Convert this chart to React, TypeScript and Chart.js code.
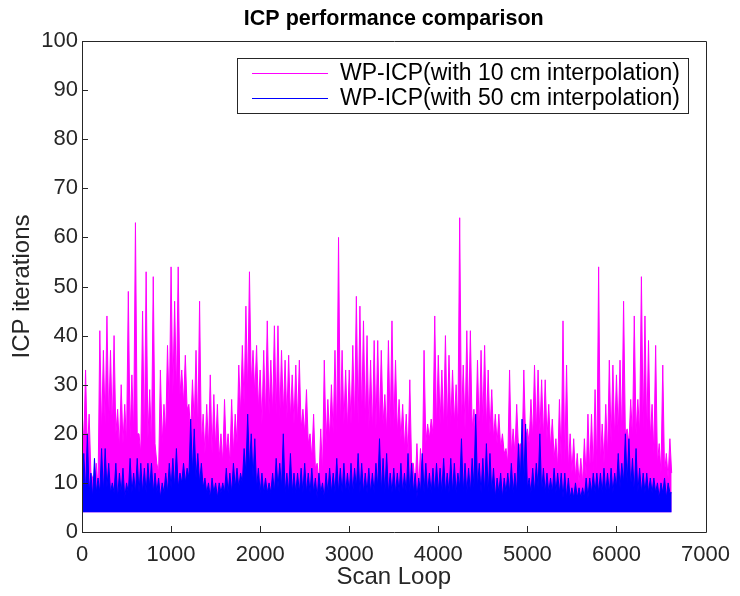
import React, { useEffect, useRef } from "react";
import { Chart, registerables } from "chart.js";

Chart.register(...registerables);

const TITLE = "ICP performance comparison";
const X_TITLE = "Scan Loop";
const Y_TITLE = "ICP iterations";
const LABEL_10CM = "WP-ICP(with 10 cm interpolation)";
const LABEL_50CM = "WP-ICP(with 50 cm interpolation)";

// sampling interval (scan loops) between successive readings
const SCAN_STEP = 20;
const xTickValues = [0, 1000, 2000, 3000, 4000, 5000, 6000, 7000];
const yTickValues = [0, 10, 20, 30, 40, 50, 60, 70, 80, 90, 100];

// ICP iterations, 10 cm interpolation (magenta): alternating spike / dense level, every 20 scan loops
const iter10cm = [
  25, 18, 33, 16, 24, 12, 11, 8, 14, 9, 41, 20, 37, 22, 44, 22, 37, 21, 40, 20,
  25, 17, 30, 18, 26, 18, 49, 19, 32, 20, 63, 20, 20, 16, 45, 18, 53, 19, 29, 17,
  52, 18, 14, 12, 33, 18, 26, 20, 38, 24, 54, 28, 47, 28, 54, 28,
  33, 26, 36, 25, 26, 20, 31, 22, 37, 20, 47, 18, 24, 16, 26, 17, 32, 16, 28, 17,
  26, 15, 20, 14, 27, 16, 20, 14, 27, 16, 24, 18, 34, 24, 38, 26, 46, 28, 53, 30,
  37, 28, 38, 25, 33, 22, 37, 23, 43, 24, 35, 24, 42, 24,
  42, 23, 37, 24, 35, 23, 36, 23, 32, 22, 34, 22, 35, 21, 25, 20, 29, 18, 20, 15,
  24, 13, 14, 10, 21, 12, 35, 18, 27, 19, 30, 20, 37, 20, 60, 21, 37, 22, 33, 21,
  33, 22, 38, 22, 48, 22, 46, 23, 43, 22, 40, 21, 35, 20, 39, 21,
  39, 21, 37, 22, 28, 20, 39, 21, 43, 21, 35, 20, 27, 19, 26, 17, 24, 15, 31, 14,
  14, 9, 18, 9, 17, 11, 37, 18, 22, 19, 23, 20, 44, 21, 36, 22, 33, 21, 40, 21,
  36, 22, 33, 22, 30, 21, 64, 22, 34, 21, 41, 22, 41, 21, 25, 19, 35, 20,
  37, 22, 38, 21, 33, 20, 29, 19, 24, 18, 24, 17, 20, 16, 17, 14, 33, 16, 21, 16,
  26, 17, 18, 15, 33, 19, 21, 18, 27, 19, 34, 20, 33, 20, 31, 19, 31, 19, 26, 17,
  23, 15, 19, 13, 27, 14, 43, 14, 34, 13, 20, 12, 19, 11, 16, 10,
  15, 10, 19, 11, 24, 12, 24, 12, 29, 13, 54, 14, 22, 14, 26, 15, 35, 18, 34, 19,
  32, 20, 35, 19, 47, 20, 21, 18, 27, 19, 44, 20, 27, 20, 52, 21, 44, 20, 39, 19,
  26, 16, 38, 14, 18, 12, 34, 12, 16, 11, 19, 12,
];

// ICP iterations, 50 cm interpolation (blue): alternating dense level / spike, every 20 scan loops
const iter50cm = [
  9, 16, 8, 20, 8, 12, 7, 15, 8, 11,
  8, 17, 8, 17, 9, 14, 8, 10, 8, 14,
  7, 12, 8, 13, 7, 10, 8, 15, 8, 12,
  8, 15, 8, 14, 8, 13, 8, 14, 9, 14,
  8, 12, 8, 11, 7, 10, 8, 12, 8, 14,
  9, 15, 9, 17, 9, 12, 10, 14, 10, 13,
  11, 23, 12, 21, 11, 16, 10, 14, 9, 11,
  8, 10, 7, 11, 8, 10, 7, 10, 8, 10,
  8, 13, 8, 12, 8, 14, 9, 13, 9, 12,
  10, 17, 12, 24, 13, 20, 11, 19, 9, 13,
  8, 12, 8, 11, 8, 10, 8, 12, 8, 15,
  9, 14, 9, 20, 8, 12, 8, 16, 8, 12,
  8, 12, 8, 13, 8, 14, 8, 12, 8, 13,
  8, 11, 7, 12, 8, 10, 7, 12, 8, 13,
  8, 12, 8, 15, 8, 13, 8, 14, 8, 12,
  8, 14, 8, 13, 9, 16, 8, 14, 8, 12,
  8, 13, 8, 12, 8, 14, 9, 19, 8, 15,
  8, 16, 8, 12, 8, 13, 8, 12, 8, 14,
  8, 12, 8, 16, 8, 14, 8, 12, 7, 11,
  8, 16, 8, 14, 8, 12, 8, 13, 8, 14,
  8, 13, 8, 15, 8, 12, 8, 15, 8, 14,
  8, 12, 9, 19, 8, 14, 8, 13, 8, 15,
  9, 24, 9, 14, 8, 15, 8, 18, 8, 16,
  8, 13, 7, 11, 8, 12, 7, 11, 8, 12,
  8, 14, 8, 12, 8, 18, 10, 23, 10, 22,
  9, 11, 8, 13, 8, 14, 9, 20, 8, 13,
  8, 12, 8, 11, 8, 13, 8, 12, 8, 12,
  7, 12, 7, 11, 7, 9, 7, 10, 7, 9,
  7, 9, 7, 11, 7, 11, 8, 12, 8, 12,
  8, 12, 8, 13, 8, 12, 8, 13, 8, 12,
  9, 16, 9, 14, 10, 20, 10, 19, 9, 15,
  8, 17, 8, 13, 8, 12, 8, 12, 8, 11,
  8, 11, 8, 10, 7, 10, 8, 11, 7, 10, 8, 8,
];

// lowest iteration count seen (bottom edge of both traces)
const MIN_ITER = 4;

const MAGENTA = "#ff00ff";
const BLUE = "#0000ff";
const AXIS_COLOR = "#262626";
const FONT = '"Liberation Sans", Arial, Helvetica, sans-serif';

const toPoints = (arr: number[]) => arr.map((v, i) => ({ x: i * SCAN_STEP, y: v }));

const decorPlugin = {
  id: "decor",
  afterDraw(chart: any) {
    const { ctx, chartArea } = chart;
    const { left, right, top, bottom } = chartArea;
    const xs = chart.scales.x;
    const ys = chart.scales.y;
    ctx.save();
    // frame
    ctx.strokeStyle = AXIS_COLOR;
    ctx.lineWidth = 1;
    ctx.beginPath();
    ctx.rect(Math.round(left) + 0.5, Math.round(top) + 0.5, Math.round(right - left), Math.round(bottom - top));
    ctx.stroke();
    // inward ticks
    ctx.beginPath();
    for (const t of xTickValues) {
      const px = Math.round(xs.getPixelForValue(t)) + 0.5;
      ctx.moveTo(px, bottom);
      ctx.lineTo(px, bottom - 6);
    }
    for (const t of yTickValues) {
      const py = Math.round(ys.getPixelForValue(t)) + 0.5;
      ctx.moveTo(left, py);
      ctx.lineTo(left + 6, py);
    }
    ctx.stroke();

    // title
    ctx.fillStyle = "#000";
    ctx.font = "bold 21.5px " + FONT;
    ctx.textAlign = "center";
    ctx.textBaseline = "middle";
    ctx.fillText(TITLE, (left + right) / 2, 19);

    // legend box
    const bx = 237, by = 58, bw = 451, bh = 55;
    ctx.fillStyle = "#fff";
    ctx.fillRect(bx, by, bw, bh);
    ctx.strokeStyle = AXIS_COLOR;
    ctx.strokeRect(bx + 0.5, by + 0.5, bw, bh);
    const rows = [
      { label: chart.data.datasets[0].label, color: MAGENTA, y: 73 },
      { label: chart.data.datasets[1].label, color: BLUE, y: 98 },
    ];
    ctx.font = "23px " + FONT;
    ctx.textAlign = "left";
    ctx.textBaseline = "middle";
    for (const r of rows) {
      ctx.strokeStyle = r.color;
      ctx.beginPath();
      ctx.moveTo(252, r.y + 0.5);
      ctx.lineTo(328, r.y + 0.5);
      ctx.stroke();
      ctx.fillStyle = "#000";
      ctx.fillText(r.label, 340, r.y + 1);
    }
    ctx.restore();
  },
};

export default function App() {
  const ref = useRef<HTMLCanvasElement | null>(null);

  useEffect(() => {
    if (!ref.current) return;
    const chart = new Chart(ref.current, {
      type: "line",
      data: {
        datasets: [
          {
            label: LABEL_10CM,
            data: toPoints(iter10cm),
            borderColor: MAGENTA,
            backgroundColor: MAGENTA,
            borderWidth: 1,
            pointRadius: 0,
            tension: 0,
            fill: { value: MIN_ITER },
            order: 1,
          },
          {
            label: LABEL_50CM,
            data: toPoints(iter50cm),
            borderColor: BLUE,
            backgroundColor: BLUE,
            borderWidth: 1,
            pointRadius: 0,
            tension: 0,
            fill: { value: MIN_ITER },
            order: 0,
          },
        ],
      },
      options: {
        responsive: false,
        animation: false,
        events: [],
        layout: { padding: { top: 41, right: 32, left: 0, bottom: 0 } },
        plugins: {
          legend: { display: false },
          title: { display: false },
          tooltip: { enabled: false },
        },
        scales: {
          x: {
            type: "linear",
            min: 0,
            max: 7000,
            afterFit: (s: any) => {
              s.height = 64;
            },
            afterBuildTicks: (s: any) => {
              s.ticks = xTickValues.map((v) => ({ value: v }));
            },
            ticks: {
              color: AXIS_COLOR,
              font: { family: FONT, size: 22 },
              padding: 10,
              maxRotation: 0,
              autoSkip: false,
              callback: (v: any) => String(v),
            },
            grid: { display: false, drawTicks: false },
            border: { display: false },
            title: {
              display: true,
              text: X_TITLE,
              color: AXIS_COLOR,
              font: { family: FONT, size: 24 },
              padding: { top: 0, bottom: 4 },
            },
          },
          y: {
            type: "linear",
            min: 0,
            max: 100,
            afterFit: (s: any) => {
              s.width = 82;
            },
            afterBuildTicks: (s: any) => {
              s.ticks = yTickValues.map((v) => ({ value: v }));
            },
            ticks: {
              color: AXIS_COLOR,
              font: { family: FONT, size: 22 },
              padding: 4,
              autoSkip: false,
              callback: (v: any) => String(v),
            },
            grid: { display: false, drawTicks: false },
            border: { display: false },
            title: {
              display: true,
              text: Y_TITLE,
              color: AXIS_COLOR,
              font: { family: FONT, size: 24 },
              padding: { top: 8, bottom: 0 },
            },
          },
        },
      },
      plugins: [decorPlugin],
    });
    return () => chart.destroy();
  }, []);

  return (
    <div style={{ position: "fixed", left: 0, top: 0, width: 740, height: 596, background: "#fff" }}>
      <canvas ref={ref} width={740} height={596} style={{ display: "block" }} />
    </div>
  );
}
